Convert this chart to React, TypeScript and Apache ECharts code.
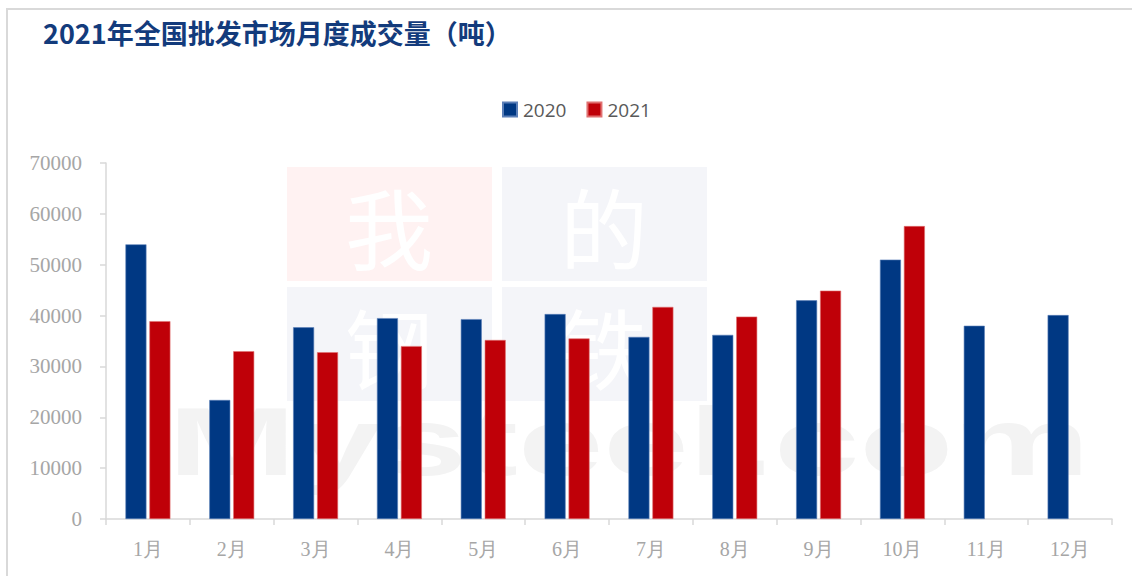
import React, { useEffect, useRef } from "react";
import * as echarts from "echarts";

const months = ["1月", "2月", "3月", "4月", "5月", "6月", "7月", "8月", "9月", "10月", "11月", "12月"];
const values2020 = [54000, 23400, 37700, 39500, 39300, 40300, 35800, 36200, 43000, 51000, 38000, 40100];
const values2021 = [38900, 33000, 32800, 34000, 35200, 35500, 41700, 39800, 44900, 57600, null, null];
const seriesNames = ["2020", "2021"];
const titleText = "2021年全国批发市场月度成交量（吨）";
const watermarkChars = ["我", "的", "钢", "铁"];
const watermarkSite = "Mysteel.com";

export default function App() {
  const ref = useRef<HTMLDivElement>(null);
  useEffect(() => {
    if (!ref.current) return;
    const chart = echarts.init(ref.current, null, { renderer: "svg" });
    const sq = [
      { x: 287, y: 167, fill: "#fff2f2", ch: watermarkChars[0] },
      { x: 502, y: 167, fill: "#f4f5f9", ch: watermarkChars[1] },
      { x: 287, y: 287, fill: "#f4f5f9", ch: watermarkChars[2] },
      { x: 502, y: 287, fill: "#f4f5f9", ch: watermarkChars[3] },
    ];
    const graphics: any[] = [
      {
        type: "rect",
        z: -10,
        shape: { x: 7, y: 9, width: 1140, height: 600 },
        style: { fill: "none", stroke: "#d9d9d9", lineWidth: 2 },
      },
    ];
    sq.forEach((s) => {
      graphics.push({
        type: "rect",
        z: -8,
        shape: { x: s.x, y: s.y, width: 205, height: 114 },
        style: { fill: s.fill },
      });
      graphics.push({
        type: "text",
        z: -7,
        x: s.x + 102,
        y: s.y + 57,
        style: {
          text: s.ch,
          font: "88px 'Noto Sans CJK SC', serif",
          fill: "#ffffff",
          align: "center",
          verticalAlign: "middle",
        },
      });
    });
    graphics.push({
      type: "text",
      z: -6,
      x: 168,
      y: 442,
      scaleX: 1.6,
      style: {
        text: watermarkSite,
        font: "bold 96px 'Liberation Sans', sans-serif",
        fill: "#f3f3f3",
        align: "left",
        verticalAlign: "middle",
      },
    });
    chart.setOption({
      animation: false,
      backgroundColor: "#ffffff",
      title: {
        text: titleText,
        left: 38,
        top: 14,
        textStyle: {
          fontFamily: "'Noto Sans CJK SC', sans-serif",
          fontWeight: "bold",
          fontSize: 27,
          color: "#133b7c",
        },
      },
      graphic: graphics,
      legend: {
        data: seriesNames,
        left: 497,
        top: 95,
        itemWidth: 14,
        itemHeight: 14,
        itemGap: 20,
        icon: "rect",
        textStyle: {
          fontFamily: "'Open Sans', 'Noto Sans', sans-serif",
          fontSize: 19,
          color: "#595959",
          padding: [0, 0, 0, 1],
        },
      },
      grid: { left: 106, right: 20, top: 163, bottom: 57 },
      xAxis: {
        type: "category",
        data: months,
        axisLine: { lineStyle: { color: "#d9d9d9", width: 1.5 } },
        axisTick: { show: true, length: 6, lineStyle: { color: "#d9d9d9", width: 1.5 } },
        axisLabel: {
          margin: 20,
          fontFamily: "'Liberation Serif', serif",
          fontSize: 20,
          color: "#a6a6a6",
        },
      },
      yAxis: {
        type: "value",
        min: 0,
        max: 70000,
        interval: 10000,
        axisLine: { show: true, lineStyle: { color: "#d9d9d9", width: 1.5 } },
        axisTick: { show: true, length: 6, lineStyle: { color: "#d9d9d9", width: 1.5 } },
        splitLine: { show: false },
        axisLabel: {
          margin: 24,
          fontFamily: "'Liberation Serif', serif",
          fontSize: 21,
          color: "#a6a6a6",
          formatter: (v: number) => String(v),
        },
      },
      series: [
        {
          name: seriesNames[0],
          type: "bar",
          data: values2020,
          barWidth: 21,
          barGap: "14%",
          itemStyle: { color: "#003883", borderColor: "#5b7fb8", borderWidth: 0.6 },
        },
        {
          name: seriesNames[1],
          type: "bar",
          data: values2021,
          barWidth: 21,
          barGap: "14%",
          itemStyle: { color: "#bf0008", borderColor: "#e07070", borderWidth: 0.6 },
        },
      ],
    });
    return () => chart.dispose();
  }, []);
  return (
    <div
      ref={ref}
      style={{ position: "fixed", left: 0, top: 0, width: 1132, height: 576 }}
    />
  );
}
